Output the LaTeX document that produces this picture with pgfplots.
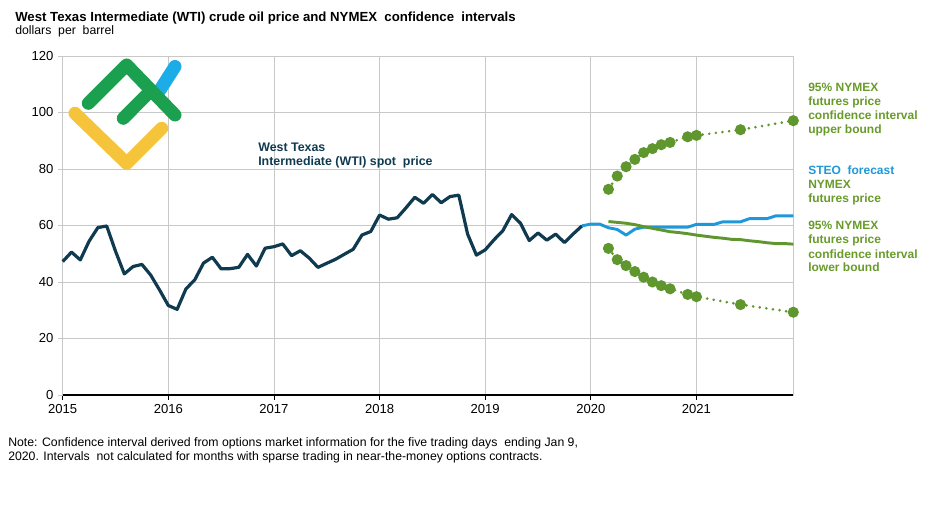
\documentclass[border=0pt]{standalone}
\usepackage{fontspec}
\setmainfont{Liberation Sans}
\usepackage{pgfplots}
\pgfplotsset{compat=1.18}
\definecolor{wti}{RGB}{16,58,80}
\definecolor{steo}{RGB}{30,152,216}
\definecolor{nym}{RGB}{95,151,46}
\definecolor{nymtxt}{RGB}{104,155,42}
\definecolor{gridc}{RGB}{200,200,200}
\definecolor{lgreen}{RGB}{26,160,78}
\definecolor{lyellow}{RGB}{246,196,58}
\definecolor{lblue}{RGB}{28,172,232}

\pgfplotstableread{
m v
0 47.22
1 50.58
2 47.82
3 54.45
4 59.27
5 59.82
6 50.90
7 42.87
8 45.48
9 46.22
10 42.44
11 37.19
12 31.68
13 30.32
14 37.55
15 40.75
16 46.71
17 48.76
18 44.65
19 44.72
20 45.18
21 49.78
22 45.66
23 51.97
24 52.50
25 53.47
26 49.33
27 51.06
28 48.48
29 45.18
30 46.63
31 48.04
32 49.82
33 51.58
34 56.64
35 57.88
36 63.70
37 62.23
38 62.73
39 66.25
40 69.98
41 67.87
42 70.98
43 68.06
44 70.23
45 70.75
46 56.96
47 49.52
48 51.38
49 54.95
50 58.15
51 63.86
52 60.83
53 54.66
54 57.35
55 54.81
56 56.95
57 53.96
58 57.03
59 59.88
}\tabwti

\pgfplotstableread{
m v
59 59.88
60 60.5
61 60.5
62 59.2
63 58.6
64 56.6
65 58.7
66 59.4
67 59.4
68 59.4
69 59.4
70 59.4
71 59.4
72 60.4
73 60.4
74 60.4
75 61.3
76 61.3
77 61.3
78 62.4
79 62.4
80 62.4
81 63.4
82 63.4
83 63.4
}\tabsteo

\pgfplotstableread{
m v
62 61.4
63 61.1
64 60.8
65 60.3
66 59.6
67 59.0
68 58.4
69 57.8
70 57.5
71 57.1
72 56.6
73 56.2
74 55.8
75 55.5
76 55.1
77 55.0
78 54.6
79 54.3
80 53.9
81 53.6
82 53.6
83 53.4
}\tabfut

\pgfplotstableread{
m v
62 72.8
63 77.5
64 80.8
65 83.4
66 85.8
67 87.2
68 88.6
69 89.4
71 91.4
72 91.9
77 93.9
83 97.1
}\tabupper

\pgfplotstableread{
m v
62 51.9
63 47.9
64 45.8
65 43.7
66 41.7
67 40.0
68 38.7
69 37.6
71 35.6
72 34.8
77 32.0
83 29.3
}\tablower

\begin{document}
\begin{tikzpicture}
\path[use as bounding box] (-47.025pt,-88.5pt) rectangle (653.475pt,296.25pt);
\begin{axis}[
  at={(0pt,0pt)}, anchor=south west,
  scale only axis, width=547.95pt, height=254.25pt,
  xmin=0, xmax=83, ymin=0, ymax=120,
  xtick={0,12,24,36,48,60,72},
  xticklabels={2015,2016,2017,2018,2019,2020,2021},
  ytick={0,20,40,60,80,100,120},
  xmajorgrids, ymajorgrids,
  major grid style={gridc, line width=0.6pt},
  axis line style={gridc, line width=0.6pt},
  tick align=outside, tick pos=left,
  major tick length=3.5pt,
  xtick style={black, line width=0.6pt},
  ytick style={gridc, line width=0.6pt},
  ticklabel style={font=\fontsize{9.8}{11}\selectfont, text=black},
  /pgf/number format/assume math mode=true,
  clip=false,
]
\addplot[wti, line width=2.4pt, line join=round] table {\tabwti};
\addplot[steo, line width=2.2pt, line join=round] table {\tabsteo};
\addplot[nym, line width=2.2pt, line join=round] table {\tabfut};
\addplot[nym, line width=2.2pt, dash pattern=on 0pt off 5pt, line cap=round,
  mark=*, mark size=3pt, mark options={solid, fill=nym, draw=none}] table {\tabupper};
\addplot[nym, line width=2.2pt, dash pattern=on 0pt off 5pt, line cap=round,
  mark=*, mark size=3pt, mark options={solid, fill=nym, draw=none}] table {\tablower};
\draw[black, line width=0.8pt] (axis cs:0,0) -- (axis cs:83,0);
\end{axis}
\begin{scope}[shift={(-47.025pt,296.25pt)}, x=0.75pt, y=-0.75pt]
  % logo
  \draw[lyellow, line width=9.75pt, line cap=round, line join=round] (75,113.3) -- (126.7,163.3) -- (161.7,128.3);
  \draw[lblue, line width=9.75pt, line cap=round] (160,90) -- (175,66.5);
  \draw[lgreen, line width=9.75pt, line cap=round, line join=round] (88.3,103.3) -- (126.7,65) -- (175,115);
  \draw[lgreen, line width=9.75pt, line cap=round, line join=round] (123.3,118.3) -- (149,92.5);
  % titles
  \node[anchor=base west, inner sep=0, font=\bfseries\fontsize{9.9}{11}\selectfont] at (15,22) {West Texas Intermediate (WTI) crude oil price and NYMEX\ \ confidence\ \ intervals};
  \node[anchor=base west, inner sep=0, font=\fontsize{9.2}{11}\selectfont] at (15,35) {dollars\ \ per\ \ barrel};
  % WTI label
  \node[anchor=base west, inner sep=0, text=wti, font=\bfseries\fontsize{9.3}{10}\selectfont] at (258,151.5) {West Texas};
  \node[anchor=base west, inner sep=0, text=wti, font=\bfseries\fontsize{9.3}{10}\selectfont] at (258,166) {Intermediate (WTI) spot\ \ price};
  % right labels
  \foreach \t/\y in {95\% NYMEX/91.7, futures price/106, confidence interval/120, upper bound/134,
                     NYMEX/189, futures price/202.7,
                     95\% NYMEX/230, futures price/244, confidence interval/258.3, lower bound/271.7}
    \node[anchor=base west, inner sep=0, text=nymtxt, font=\bfseries\fontsize{9}{10}\selectfont] at (808,\y) {\t};
  \node[anchor=base west, inner sep=0, text=steo, font=\bfseries\fontsize{9}{10}\selectfont] at (808,175) {STEO\ \ forecast};
  % note
  \node[anchor=base west, inner sep=0, font=\fontsize{9.2}{11}\selectfont] at (8,447) {Note: Confidence interval derived from options market information for the five trading days\ \ ending Jan 9,};
  \node[anchor=base west, inner sep=0, font=\fontsize{9.2}{11}\selectfont] at (8,461) {2020. Intervals\ \ not calculated for months with sparse trading in near-the-money options contracts.};
\end{scope}
\end{tikzpicture}
\end{document}
